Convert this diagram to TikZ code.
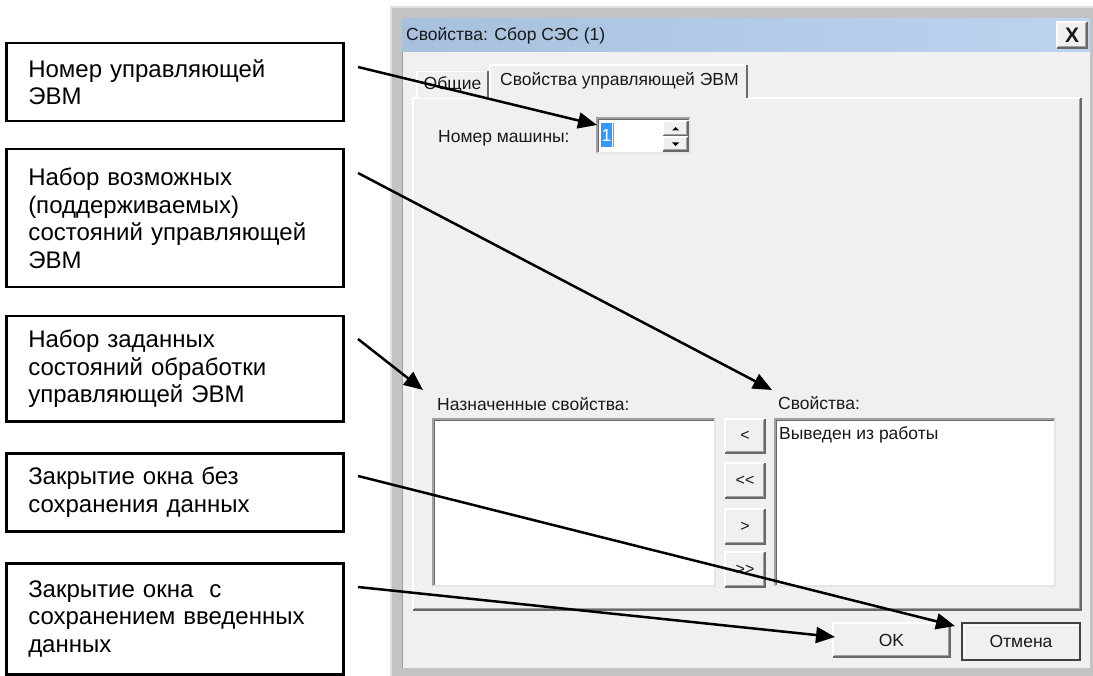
\documentclass[tikz,border=0pt]{standalone}
\usepackage{fontspec}
\setmainfont{Liberation Sans}
\newfontfamily\uifont{Liberation Sans}
\usetikzlibrary{arrows.meta,calc}

\definecolor{winbody}{HTML}{F0F0F0}
\definecolor{winframe}{HTML}{C3C3C3}
\definecolor{titleL}{HTML}{A7C1DD}
\definecolor{titleR}{HTML}{BDD4EF}
\definecolor{edgeDark}{HTML}{696969}
\definecolor{edgeMid}{HTML}{A0A0A0}
\definecolor{selblue}{HTML}{3399FF}

\tikzset{
  callout/.style={draw=black, line width=2.5pt, fill=white, anchor=north west,
    inner xsep=22pt, inner ysep=0pt, text width=293pt, align=left,
    minimum width=337pt, font=\fontsize{24}{27.5}\selectfont},
  callarrow/.style={draw=black, line width=2.5pt, -{Triangle[length=19pt,width=16pt]}},
  ui/.style={font=\uifont\fontsize{17.5}{20}\selectfont, inner sep=0pt, text=black!90},
  lightedge/.style={draw=white, line width=1.5pt},
  darkedge/.style={draw=edgeDark, line width=1.5pt},
  midedge/.style={draw=edgeMid, line width=1.5pt},
}

% raised control: name, x1, y1, x2, y2, label
\newcommand{\uiraised}[6]{%
  \node[ui, fill=winbody, minimum width={#4-#2}, minimum height={#5-#3}]
    (#1) at ({(#2+#4)/2},{(#3+#5)/2}) {#6};
  \draw[lightedge] (#1.south west) -- (#1.north west) -- (#1.north east);
  \draw[midedge] ([shift={(1.5,-1.5)}]#1.south west) -- ([shift={(-1.5,-1.5)}]#1.south east)
    -- ([shift={(-1.5,1.5)}]#1.north east);
  \draw[darkedge] (#1.south west) -- (#1.south east) -- (#1.north east);
}
% sunken white field: name, x1, y1, x2, y2
\newcommand{\uisunken}[5]{%
  \node[fill=white, inner sep=0pt, minimum width={#4-#2}, minimum height={#5-#3}]
    (#1) at ({(#2+#4)/2},{(#3+#5)/2}) {};
  \draw[midedge] (#1.south west) -- (#1.north west) -- (#1.north east);
  \draw[darkedge, line width=1pt] ([shift={(1.5,-1.5)}]#1.south west)
    -- ([shift={(1.5,1.5)}]#1.north west) -- ([shift={(-1.5,1.5)}]#1.north east);
  \draw[draw=white!90!black, line width=1.5pt] (#1.south west) -- (#1.south east) -- (#1.north east);
}

\begin{document}
\begin{tikzpicture}[x=1pt, y=-1pt]
\useasboundingbox (0,0) rectangle (1093,676);
\fill[white] (0,0) rectangle (1093,676);

% ---- dialog window frame ----
\fill[winframe] (390,6) rectangle (1093,676);
\draw[white!88!black, line width=1.5pt] (390.8,676) -- (390.8,6.8) -- (1093,6.8);
\fill[winbody] (402,19) rectangle (1090,668);
\draw[edgeMid, line width=1pt] (402,668) -- (402,52);
\shade[left color=titleL, right color=titleR] (402,19) rectangle (1090,52);
\node[ui, anchor=west] (title) at (406,36) {Свойства: Сбор СЭС (1)};
\uiraised{closebtn}{1057}{22}{1087}{48}{\bfseries\fontsize{21}{21}\selectfont X}

% ---- tab page ----
\node[fill=winbody, inner sep=0pt, minimum width=668, minimum height=512] (page) at (747,354) {};
\draw[lightedge] (page.south west) -- (page.north west) -- (page.north east);
\draw[midedge] ([shift={(1.5,-1.5)}]page.south west) -- ([shift={(-1.5,-1.5)}]page.south east)
  -- ([shift={(-1.5,1.5)}]page.north east);
\draw[darkedge] (page.south west) -- (page.south east) -- (page.north east);

% inactive tab
\node[ui, fill=winbody, minimum width=71, minimum height=27] (tabgen) at (452.5,85) {Общие};
\draw[lightedge] (tabgen.south west) -- (tabgen.north west) -- (tabgen.north east);
\draw[darkedge] (tabgen.north east) -- (tabgen.south east);
% active tab
\fill[winbody] (490,65) rectangle (747,99.5);
\node[ui, anchor=west] (tabcpu) at (500,81) {Свойства управляющей ЭВМ};
\draw[lightedge] (490,99) -- (490,65) -- (747,65);
\draw[darkedge] (747,65) -- (747,98);

% ---- machine number ----
\node[ui, anchor=west] (numlbl) at (438,138) {Номер машины:};
\uisunken{numedit}{597}{118}{690}{153}
\fill[selblue] (601,123) rectangle (612,147);
\node[ui, text=white] (numval) at (606.5,135) {1};
\draw[orange, line width=1pt] (613,123) -- (613,147);
\uiraised{spinup}{663}{121}{688}{136}{}
\uiraised{spindn}{663}{137}{688}{151}{}
\fill[black] (672,130.5) -- (679,130.5) -- (675.5,127) -- cycle;
\fill[black] (672,142.5) -- (679,142.5) -- (675.5,146) -- cycle;

% ---- property lists ----
\node[ui, anchor=west] (asglbl) at (437,404) {Назначенные свойства:};
\uisunken{asglist}{433}{419}{715}{586}
\node[ui, anchor=west] (proplbl) at (778,403) {Свойства:};
\uisunken{proplist}{775}{419}{1055}{586}
\node[ui, anchor=west] (propitem) at (779,435) {Выведен из работы};

\uiraised{btnone}{725}{419}{765}{453}{\fontsize{16}{16}\selectfont <}
\uiraised{btnall}{725}{463}{765}{498}{\fontsize{16}{16}\selectfont <<}
\uiraised{btnback}{725}{509}{765}{544}{\fontsize{16}{16}\selectfont >}
\uiraised{btnbackall}{725}{552}{765}{587}{\fontsize{16}{16}\selectfont >>}

% ---- dialog buttons ----
\uiraised{okbtn}{833}{623}{950}{657}{OK}
\node[ui, fill=winbody, minimum width=118, minimum height=37] (cancelbtn) at (1021,641.5) {Отмена};
\draw[draw=black!75, line width=2.5pt] (cancelbtn.south west) rectangle (cancelbtn.north east);
\draw[lightedge] ([shift={(2.5,-2.5)}]cancelbtn.south west) -- ([shift={(2.5,2.5)}]cancelbtn.north west)
  -- ([shift={(-2.5,2.5)}]cancelbtn.north east);

% ---- callouts ----
\node[callout, minimum height=78] (b1) at (5,42)
  {Номер управляющей\\ЭВМ};
\node[callout, minimum height=138] (b2) at (5,148)
  {Набор возможных\\(поддерживаемых)\\состояний управляющей\\ЭВМ};
\node[callout, minimum height=105] (b3) at (5,315)
  {Набор заданных\\состояний обработки\\управляющей ЭВМ};
\node[callout, minimum height=78] (b4) at (5,452)
  {Закрытие окна без\\сохранения данных};
\node[callout, minimum height=111] (b5) at (5,562)
  {Закрытие окна\ \ с\\сохранением введенных\\данных};

% arrow start points next to the callouts
\coordinate (s1) at (358,67);
\coordinate (s2) at (358,173);
\coordinate (s3) at (358,339);
\coordinate (s4) at (358,476);
\coordinate (s5) at (358,587);
% arrow tips at the controls
\coordinate (t1) at (597,125);
\coordinate (t2) at (772,390);
\coordinate (t3) at (423,390);
\coordinate (t4) at (955,626);
\coordinate (t5) at (835,637);

\draw[callarrow] (s1) -- (t1);
\draw[callarrow] (s2) -- (t2);
\draw[callarrow] (s3) -- (t3);
\draw[callarrow] (s4) -- (t4);
\draw[callarrow] (s5) -- (t5);
\end{tikzpicture}
\end{document}
